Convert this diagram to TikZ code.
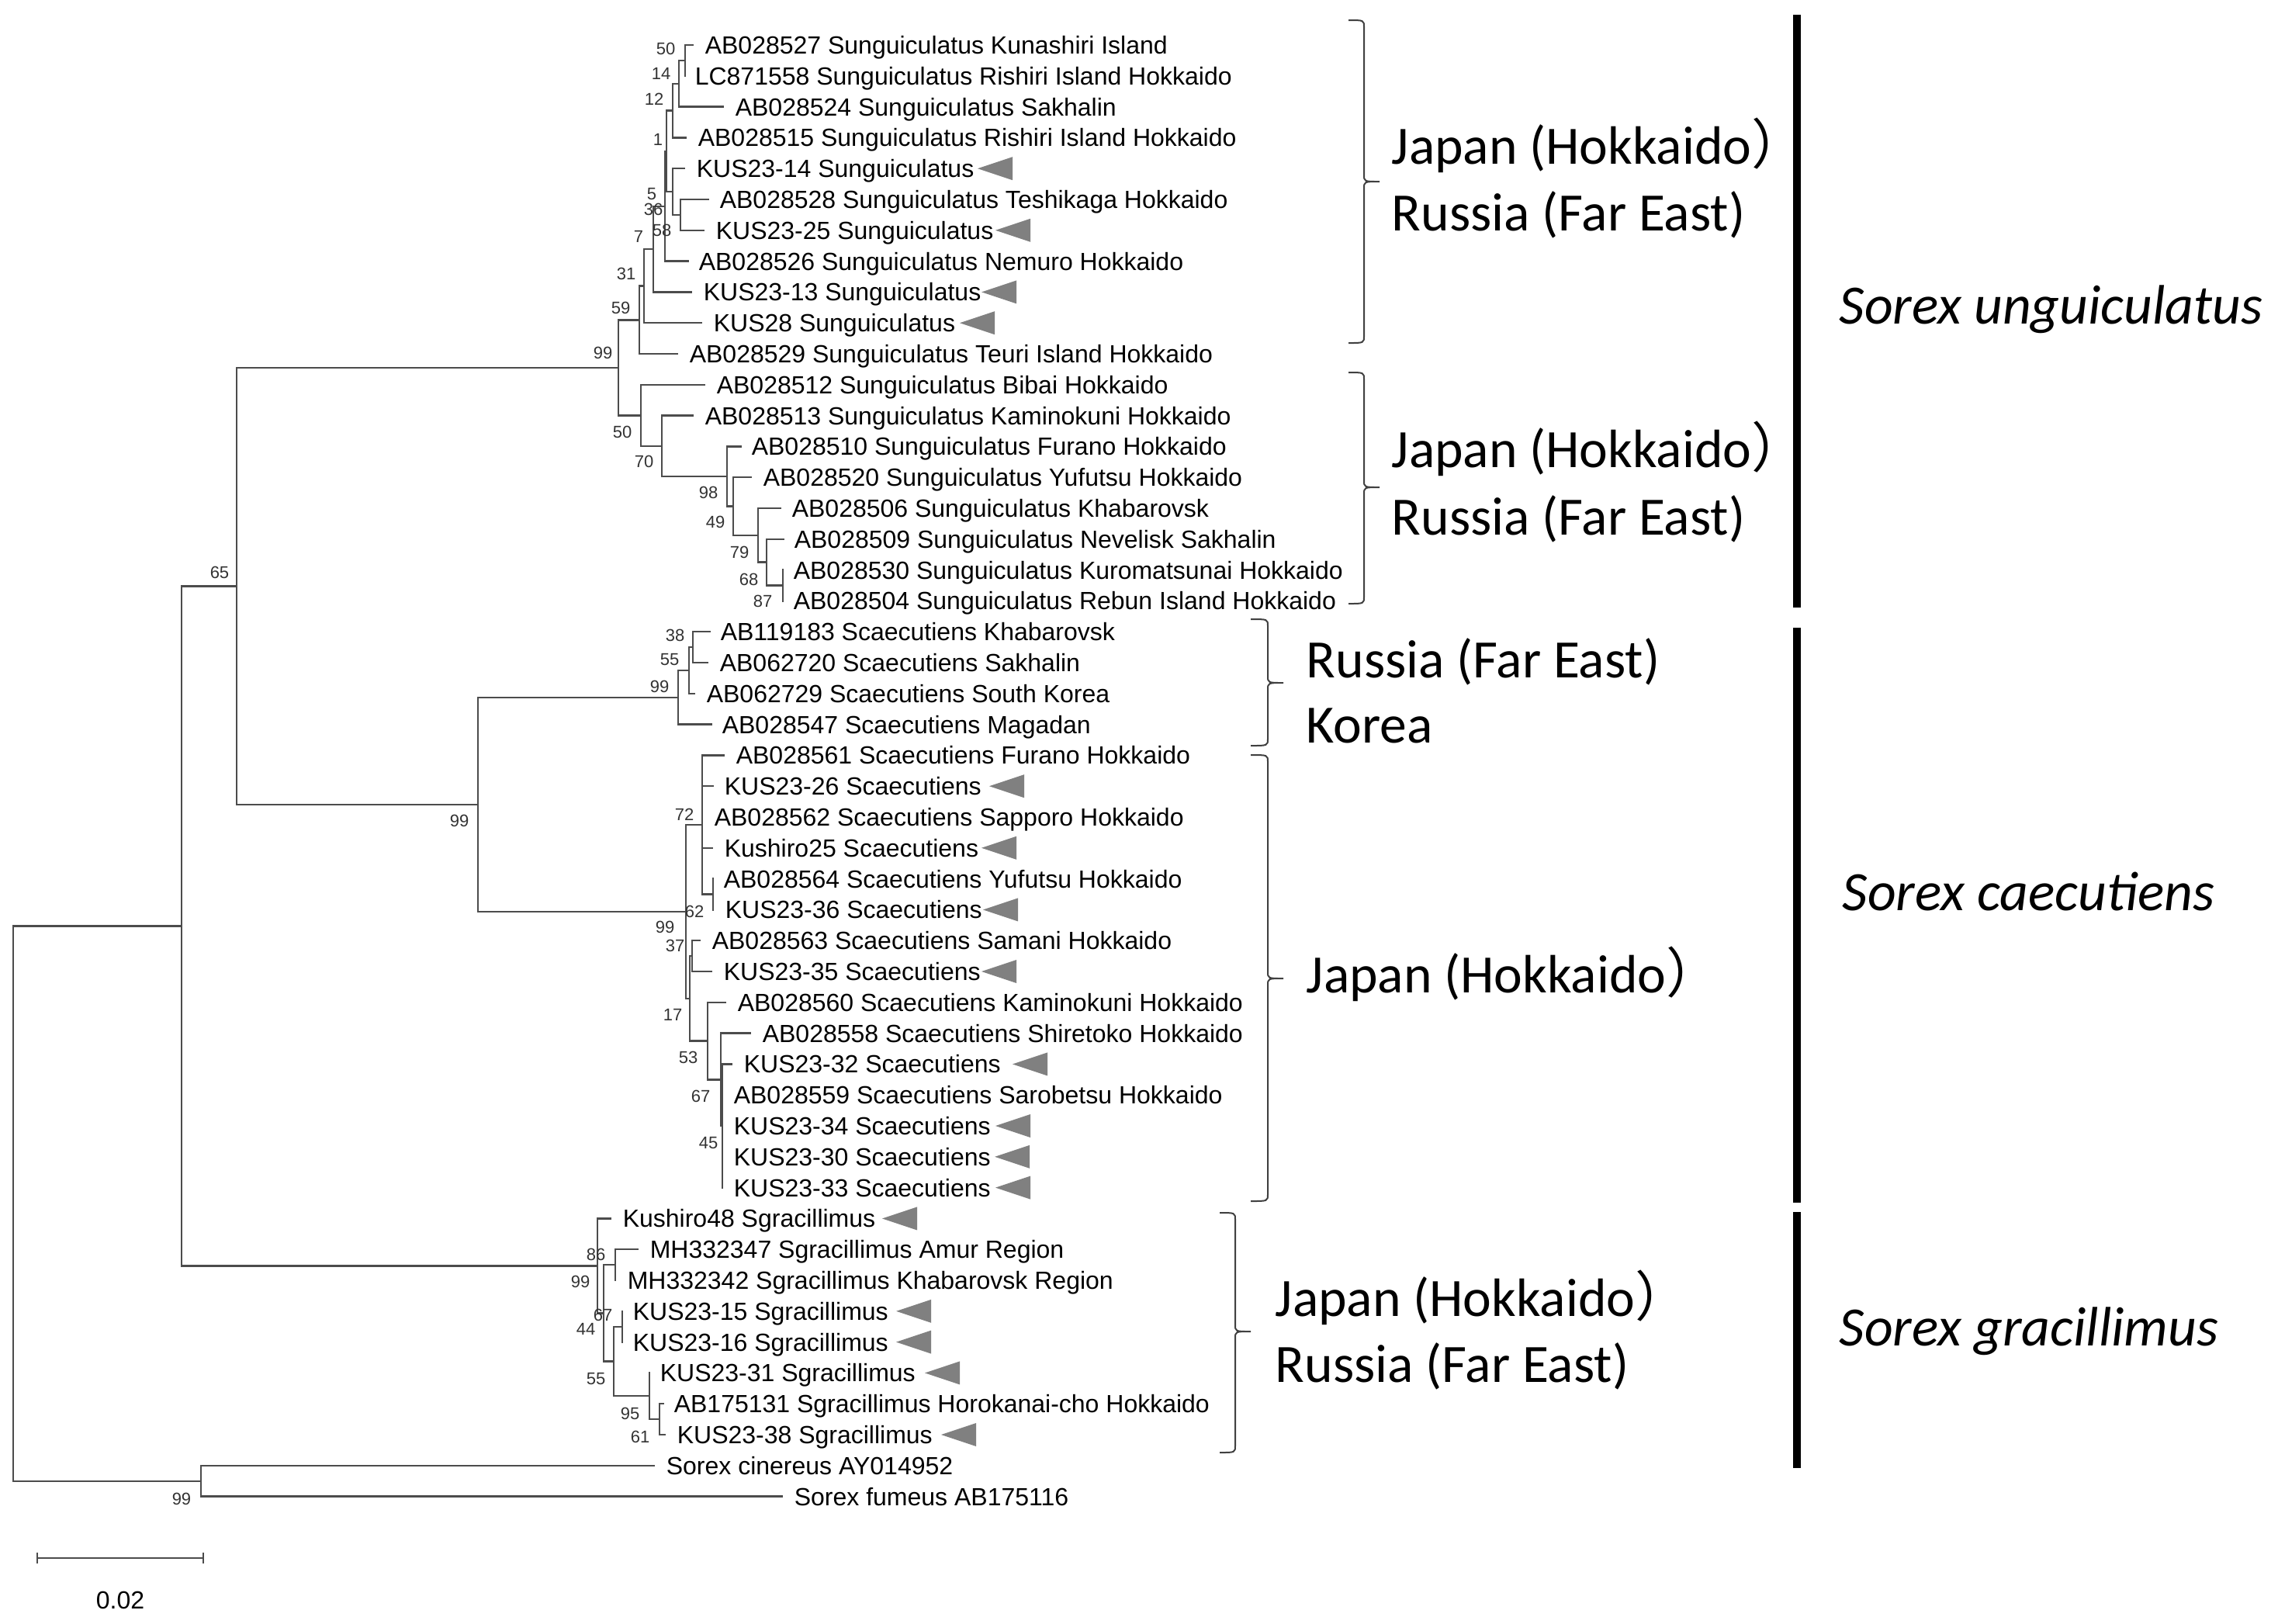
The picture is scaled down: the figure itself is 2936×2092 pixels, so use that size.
\documentclass[tikz,border=0pt]{standalone}
\usepackage{fontspec}
\setmainfont{Liberation Sans}
\newfontfamily\calfont{Carlito}
\newfontfamily\cjkfont{Noto Sans CJK JP}
\tikzset{
  br/.style={draw=black!70, line width=0.6pt, line cap=rect},
  tiplab/.style={anchor=base west, inner sep=0pt, font=\fontsize{8}{9}\selectfont},
  bs/.style={inner sep=0pt, font=\fontsize{5.5}{6}\selectfont, text=black!80},
  tri/.style={fill=black!50, draw=none},
  brace/.style={draw=black!75, line width=0.5pt},
  geo/.style={anchor=base west, inner sep=0pt, font=\calfont\fontsize{17.4}{20}\selectfont},
  spc/.style={anchor=base west, inner sep=0pt, font=\calfont\itshape\fontsize{17.9}{20}\selectfont},
}
\newcommand\tipnode[6]{%
  \coordinate (#1e) at (#3,{58+(#5-1)*39.8});
  \node[tiplab] (#1) at (#4,{58+(#5-1)*39.8+11.5}) {#6};
  \draw[br] (#2) |- (#1e);
}
\newcommand\tritag[2]{%
  \fill[tri] (#1,{58+(#2-1)*39.8}) -- ++(45,-15) -- ++(0,30) -- cycle;
}
\newcommand\bsl[3]{\node[bs] at (#1,#2) {#3};}
\newcommand\bracepath[6]{% xl xline ytop ybot ycusp xcusp
  \draw[brace] (#1,#3) .. controls (#2,#3) .. (#2,#3+9) -- (#2,#5-9)
    .. controls (#2,#5) .. (#6,#5) .. controls (#2,#5) .. (#2,#5+9)
    -- (#2,#4-9) .. controls (#2,#4) .. (#1,#4);
}
\newcommand\fwp{{\cjkfont ）}}
\begin{document}
\begin{tikzpicture}[x=0.25pt,y=-0.25pt]
\useasboundingbox (0,0) rectangle (2936,2092);
% ---------- internal nodes ----------
\coordinate (A) at (883,77.9);
\coordinate (B) at (875,107.75);
\coordinate (C) at (867,142.6);
\coordinate (D) at (877,276.9);
\coordinate (E) at (867,247.05);
\coordinate (F) at (859,194.8);
\coordinate (G) at (857,265.7);
\coordinate (H) at (842,321.05);
\coordinate (I) at (830,368.6);
\coordinate (J) at (824,412.3);
\coordinate (Q) at (1009,754.5);
\coordinate (P) at (988,724.65);
\coordinate (O) at (977,689.8);
\coordinate (N) at (945,652.5);
\coordinate (M) at (937,613.95);
\coordinate (L) at (853,574.8);
\coordinate (K) at (826,535.3);
\coordinate (UC) at (797,473.8);
\coordinate (R) at (893,834.1);
\coordinate (S) at (888,864);
\coordinate (T) at (874,898.8);
\coordinate (V) at (919,1152.5);
\coordinate (U) at (905,1063);
\coordinate (X) at (892,1232.1);
\coordinate (IN) at (931,1451);
\coordinate (AA) at (929,1391.3);
\coordinate (Z) at (912,1341.55);
\coordinate (Y) at (889,1286.8);
\coordinate (W) at (884,1174.9);
\coordinate (CA) at (616,1036.9);
\coordinate (SU) at (305,755.3);
\coordinate (G7) at (850,1829.1);
\coordinate (G6) at (837,1799.25);
\coordinate (G5) at (802,1709.7);
\coordinate (G4) at (791,1754.5);
\coordinate (G3) at (793,1630.1);
\coordinate (G2) at (778,1692.3);
\coordinate (G1) at (770,1631.35);
\coordinate (R2) at (234,1193.3);
\coordinate (OG) at (259,1908.7);
\coordinate (ROOT) at (17,1551);
% ---------- internal branches ----------
\foreach \c/\p in {A/B,B/C,C/F,D/E,E/F,F/G,G/H,H/I,I/J,J/UC,Q/P,P/O,O/N,N/M,M/L,L/K,K/UC,UC/SU,
  R/S,S/T,T/CA,V/U,U/W,X/Y,IN/AA,AA/Z,Z/Y,Y/W,W/CA,CA/SU,SU/R2,
  G7/G6,G6/G4,G5/G4,G4/G2,G3/G2,G2/G1,G1/R2,R2/ROOT,OG/ROOT}
  {\draw[br] (\p) |- (\c);}
% ---------- tips ----------
\tipnode{t1}{A}{893}{908}{1}{AB028527 Sunguiculatus Kunashiri Island}
\tipnode{t2}{A}{883}{895}{2}{LC871558 Sunguiculatus Rishiri Island Hokkaido}
\tipnode{t3}{B}{932}{947}{3}{AB028524 Sunguiculatus Sakhalin}
\tipnode{t4}{C}{884}{899}{4}{AB028515 Sunguiculatus Rishiri Island Hokkaido}
\tipnode{t5}{E}{882}{897}{5}{KUS23-14 Sunguiculatus}
\tipnode{t6}{D}{913}{927}{6}{AB028528 Sunguiculatus Teshikaga Hokkaido}
\tipnode{t7}{D}{907}{922}{7}{KUS23-25 Sunguiculatus}
\tipnode{t8}{G}{887}{900}{8}{AB028526 Sunguiculatus Nemuro Hokkaido}
\tipnode{t9}{H}{891}{906}{9}{KUS23-13 Sunguiculatus}
\tipnode{t10}{I}{904}{919}{10}{KUS28 Sunguiculatus}
\tipnode{t11}{J}{873}{888}{11}{AB028529 Sunguiculatus Teuri Island Hokkaido}
\tipnode{t12}{K}{908}{923}{12}{AB028512 Sunguiculatus Bibai Hokkaido}
\tipnode{t13}{L}{893}{908}{13}{AB028513 Sunguiculatus Kaminokuni Hokkaido}
\tipnode{t14}{M}{955}{968}{14}{AB028510 Sunguiculatus Furano Hokkaido}
\tipnode{t15}{N}{968}{983}{15}{AB028520 Sunguiculatus Yufutsu Hokkaido}
\tipnode{t16}{O}{1006}{1020}{16}{AB028506 Sunguiculatus Khabarovsk}
\tipnode{t17}{P}{1010}{1023}{17}{AB028509 Sunguiculatus Nevelisk Sakhalin}
\tipnode{t18}{Q}{1009}{1022}{18}{AB028530 Sunguiculatus Kuromatsunai Hokkaido}
\tipnode{t19}{Q}{1009}{1022}{19}{AB028504 Sunguiculatus Rebun Island Hokkaido}
\tipnode{t20}{R}{915}{928}{20}{AB119183 Scaecutiens Khabarovsk}
\tipnode{t21}{R}{912}{927}{21}{AB062720 Scaecutiens Sakhalin}
\tipnode{t22}{S}{895}{910}{22}{AB062729 Scaecutiens South Korea}
\tipnode{t23}{T}{917}{930}{23}{AB028547 Scaecutiens Magadan}
\tipnode{t24}{U}{933}{948}{24}{AB028561 Scaecutiens Furano Hokkaido}
\tipnode{t25}{U}{919}{933}{25}{KUS23-26 Scaecutiens}
\tipnode{t26}{U}{905}{920}{26}{AB028562 Scaecutiens Sapporo Hokkaido}
\tipnode{t27}{U}{918}{933}{27}{Kushiro25 Scaecutiens}
\tipnode{t28}{V}{919}{932}{28}{AB028564 Scaecutiens Yufutsu Hokkaido}
\tipnode{t29}{V}{919}{934}{29}{KUS23-36 Scaecutiens}
\tipnode{t30}{X}{902}{917}{30}{AB028563 Scaecutiens Samani Hokkaido}
\tipnode{t31}{X}{917}{932}{31}{KUS23-35 Scaecutiens}
\tipnode{t32}{Z}{935}{950}{32}{AB028560 Scaecutiens Kaminokuni Hokkaido}
\tipnode{t33}{AA}{967}{982}{33}{AB028558 Scaecutiens Shiretoko Hokkaido}
\tipnode{t34}{IN}{943}{958}{34}{KUS23-32 Scaecutiens}
\tipnode{t35}{IN}{931}{945}{35}{AB028559 Scaecutiens Sarobetsu Hokkaido}
\tipnode{t36}{IN}{931}{945}{36}{KUS23-34 Scaecutiens}
\tipnode{t37}{IN}{931}{945}{37}{KUS23-30 Scaecutiens}
\tipnode{t38}{IN}{931}{945}{38}{KUS23-33 Scaecutiens}
\tipnode{t39}{G1}{787}{802}{39}{Kushiro48 Sgracillimus}
\tipnode{t40}{G3}{822}{837}{40}{MH332347 Sgracillimus Amur Region}
\tipnode{t41}{G3}{793}{808}{41}{MH332342 Sgracillimus Khabarovsk Region}
\tipnode{t42}{G5}{802}{815}{42}{KUS23-15 Sgracillimus}
\tipnode{t43}{G5}{802}{815}{43}{KUS23-16 Sgracillimus}
\tipnode{t44}{G6}{837}{850}{44}{KUS23-31 Sgracillimus}
\tipnode{t45}{G7}{855}{868}{45}{AB175131 Sgracillimus Horokanai-cho Hokkaido}
\tipnode{t46}{G7}{857}{872}{46}{KUS23-38 Sgracillimus}
\tipnode{t47}{OG}{843}{858}{47}{Sorex cinereus AY014952}
\tipnode{t48}{OG}{1008}{1023}{48}{Sorex fumeus AB175116}
% ---------- triangles ----------
\tritag{1260}{5}\tritag{1283}{7}\tritag{1265}{9}\tritag{1237}{10}
\tritag{1275}{25}\tritag{1265}{27}\tritag{1267}{29}\tritag{1265}{31}
\tritag{1305}{34}\tritag{1283}{36}\tritag{1282}{37}\tritag{1283}{38}
\tritag{1137}{39}\tritag{1155}{42}\tritag{1155}{43}\tritag{1192}{44}\tritag{1213}{46}
% ---------- bootstrap values ----------
\bsl{858}{63}{50}\bsl{852}{95}{14}\bsl{843}{128}{12}\bsl{848}{180}{1}
\bsl{840}{250}{5}\bsl{842}{270}{36}\bsl{853}{297}{58}\bsl{823}{305}{7}
\bsl{807}{353}{31}\bsl{800}{397}{59}\bsl{777}{455}{99}
\bsl{802}{557}{50}\bsl{830}{595}{70}\bsl{913}{635}{98}\bsl{922}{673}{49}
\bsl{953}{712}{79}\bsl{965}{747}{68}\bsl{983}{775}{87}
\bsl{870}{819}{38}\bsl{863}{850}{55}\bsl{850}{885}{99}\bsl{882}{1050}{72}
\bsl{895}{1175}{62}\bsl{857}{1195}{99}\bsl{870}{1219}{37}\bsl{867}{1308}{17}
\bsl{887}{1363}{53}\bsl{903}{1413}{67}\bsl{913}{1473}{45}
\bsl{768}{1617}{86}\bsl{748}{1652}{99}\bsl{777}{1695}{67}\bsl{755}{1713}{44}
\bsl{768}{1777}{55}\bsl{812}{1822}{95}\bsl{825}{1852}{61}
\bsl{592}{1058}{99}\bsl{283}{738}{65}\bsl{234}{1932}{99}
% ---------- scale bar ----------
\coordinate (sb1) at (48,2008);
\coordinate (sb2) at (262,2008);
\draw[br,line cap=butt] (sb1) -- (sb2);
\draw[br,line cap=butt] ([yshift=-1.8pt]sb1) -- ([yshift=1.8pt]sb1);
\draw[br,line cap=butt] ([yshift=-1.8pt]sb2) -- ([yshift=1.8pt]sb2);
\node[inner sep=0pt, font=\fontsize{8}{9}\selectfont] (sbl) at (155,2062) {0.02};
% ---------- braces ----------
\bracepath{1738}{1758}{26}{442}{234}{1778}
\bracepath{1738}{1758}{480}{778}{628}{1778}
\bracepath{1612}{1634}{798}{961}{880}{1654}
\bracepath{1612}{1634}{973}{1548}{1261}{1654}
\bracepath{1572}{1592}{1563}{1872}{1716}{1612}
% ---------- region labels ----------
\node[geo] (g1a) at (1793,211) {Japan (Hokkaido\fwp};
\node[geo] (g1b) at (1793,297) {Russia (Far East)};
\node[geo] (g2a) at (1793,602) {Japan (Hokkaido\fwp};
\node[geo] (g2b) at (1793,689) {Russia (Far East)};
\node[geo] (g3a) at (1683,873) {Russia (Far East)};
\node[geo] (g3b) at (1683,957) {Korea};
\node[geo] (g4a) at (1683,1279) {Japan (Hokkaido\fwp};
\node[geo] (g5a) at (1643,1696) {Japan (Hokkaido\fwp};
\node[geo] (g5b) at (1643,1781) {Russia (Far East)};
% ---------- species bars ----------
\fill[black] (2311,19) rectangle (2321,783);
\fill[black] (2311,809) rectangle (2321,1550);
\fill[black] (2311,1562) rectangle (2321,1892);
\node[spc] (sp1) at (2370,417) {Sorex unguiculatus};
\node[spc] (sp2) at (2374,1173) {Sorex caecutiens};
\node[spc] (sp3) at (2370,1734) {Sorex gracillimus};
\end{tikzpicture}
\end{document}
